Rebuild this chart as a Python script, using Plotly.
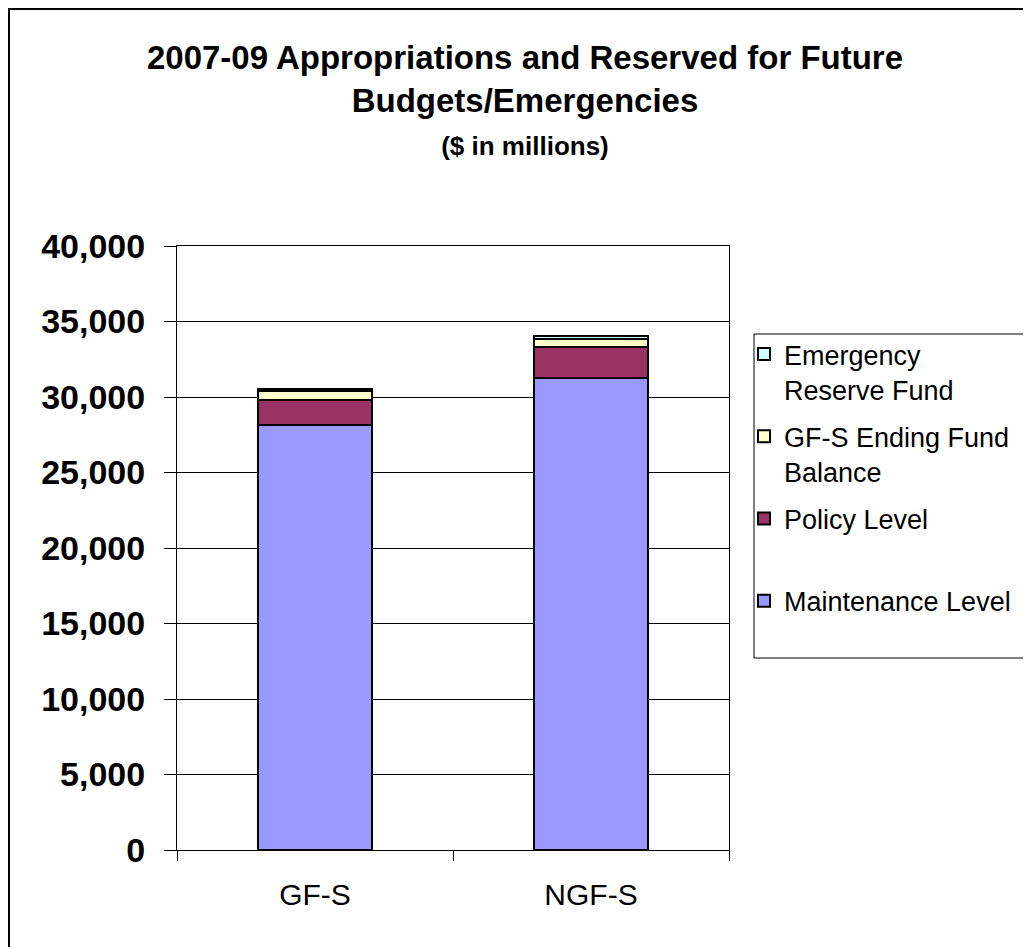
import plotly.graph_objects as go

categories = ["GF-S", "NGF-S"]
maintenance_level = [28150, 31250]
policy_level = [1650, 2050]
ending_fund_balance = [600, 530]
emergency_reserve = [100, 180]

series_names = ["Maintenance Level", "Policy Level<br> ", "GF-S Ending Fund<br>Balance", "Emergency<br>Reserve Fund"]
series_values = [maintenance_level, policy_level, ending_fund_balance, emergency_reserve]
series_colors = ["#9999FF", "#993366", "#FFFFCC", "#CCFFFF"]
legend_ranks = [4, 3, 2, 1]

W, H = 1031, 947
OFF = 8  # page offset of the figure in the screenshot
# plot area in screen pixels
L, R, T, B = 177, 729, 246, 850

fig = go.Figure()
for i, (name, vals, col, rk) in enumerate(zip(series_names, series_values, series_colors, legend_ranks)):
    fig.add_trace(go.Bar(
        x=categories, y=vals, name=name, legendgroup=f"g{i}", legendrank=rk,
        marker=dict(color=col, line=dict(color="black", width=2)),
        width=0.41,
    ))

def px_to_paper_x(px):
    return (px - L) / (R - L)

def px_to_paper_y(py):
    return (B - py) / (B - T)

font = "Liberation Sans, Arial, sans-serif"

fig.update_layout(
    width=W, height=H,
    barmode="stack",
    plot_bgcolor="white", paper_bgcolor="white",
    margin=dict(l=L - OFF, r=W - (R - OFF), t=T - OFF, b=H - (B - OFF)),
    font=dict(family=font, color="black"),
    title=dict(
        text="<b>2007-09 Appropriations and Reserved for Future<br>Budgets/Emergencies<br>"
             "<span style='font-size:26px'>($ in millions)</span></b>",
        font=dict(size=33, family=font, color="black"),
        x=(525 - OFF) / W, xanchor="center", xref="container",
        y=1 - 61 / H, yanchor="top", yref="container",
    ),
    showlegend=True,
    legend=dict(
        x=px_to_paper_x(744), xanchor="left",
        y=px_to_paper_y(330), yanchor="top",
        traceorder="grouped",
        tracegroupgap=9,
        valign="top",
        font=dict(size=27, family=font, color="black"),
        bgcolor="rgba(0,0,0,0)",
        borderwidth=0,
        itemwidth=30,
    ),
    yaxis=dict(
        range=[0, 40000], dtick=5000, tickformat=",d",
        showgrid=True, gridcolor="black", gridwidth=1,
        showline=True, linecolor="black", linewidth=1, mirror=True,
        ticks="outside", ticklen=12, tickcolor="black",
        ticklabelstandoff=12,
        tickfont=dict(size=34, family=font, color="black", weight="bold"),
        zeroline=False,
    ),
    xaxis=dict(
        showline=True, linecolor="black", linewidth=1, mirror=True,
        ticks="outside", ticklen=10, tickcolor="black", tickson="boundaries",
        ticklabelstandoff=18,
        tickfont=dict(size=30, family=font, color="black"),
        showgrid=False,
    ),
    shapes=[
        dict(type="rect", xref="paper", yref="paper",
             x0=px_to_paper_x(9), x1=px_to_paper_x(1045),
             y0=px_to_paper_y(965), y1=px_to_paper_y(9),
             line=dict(color="black", width=2), fillcolor="rgba(0,0,0,0)", layer="below"),
        dict(type="rect", xref="paper", yref="paper",
             x0=px_to_paper_x(754), x1=px_to_paper_x(1045),
             y0=px_to_paper_y(658), y1=px_to_paper_y(334),
             line=dict(color="black", width=1), fillcolor="rgba(0,0,0,0)", layer="below"),
    ],
)

fig.write_html("out.html")
